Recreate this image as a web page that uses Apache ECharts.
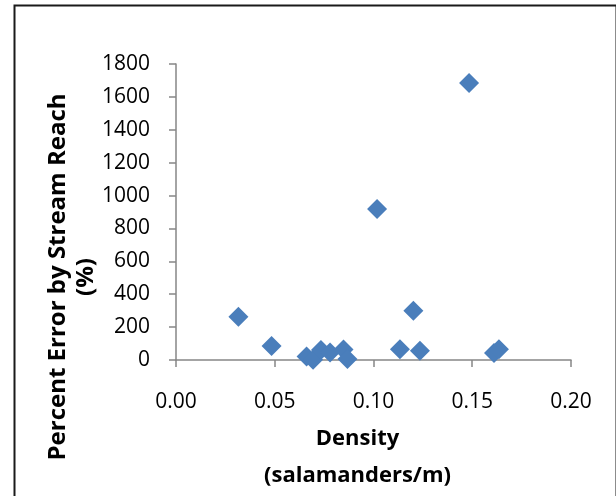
<!DOCTYPE html>
<html><head><meta charset="utf-8">
<script src="https://cdn.jsdelivr.net/npm/echarts@6/dist/echarts.min.js"></script>
<style>html,body{margin:0;padding:0;background:#fff}#c{width:616px;height:496px}</style>
</head><body><div id="c"></div>
<script>
var densityX = [0.0316, 0.0484, 0.0661, 0.0694, 0.0734, 0.078, 0.0848, 0.0868, 0.1018, 0.1134, 0.1202, 0.1235, 0.1484, 0.161, 0.1635];
var percentErrorY = [263, 85, 21, 2, 61, 46, 64, 6, 918, 65, 300, 57, 1684, 42, 66];
var xTitle = 'Density\n(salamanders/m)';
var yTitle = 'Percent Error by Stream Reach\n(%)';
var pts = densityX.map(function (x, i) { return [x, percentErrorY[i]]; });
var chart = echarts.init(document.getElementById('c'), null, {renderer: 'canvas'});
var axisCol = '#868686';
var font = 'Open Sans';
chart.setOption({
  animation: false,
  graphic: [{type: 'rect', left: 12, top: 3, shape: {width: 602, height: 520}, style: {fill: 'none', stroke: '#1a1a1a', lineWidth: 2}, silent: true}],
  grid: {left: 176, right: 45, top: 64, bottom: 136, outerBoundsMode: 'none', containLabel: false},
  xAxis: {
    type: 'value', min: 0, max: 0.2, interval: 0.05,
    splitLine: {show: false},
    axisLine: {lineStyle: {color: axisCol, width: 1.5}},
    axisTick: {show: true, length: 7, lineStyle: {color: axisCol, width: 1.5}},
    axisLabel: {margin: 32, color: '#000', fontFamily: font, fontSize: 21, formatter: function (v) { return v.toFixed(2); }},
    name: xTitle, nameLocation: 'middle', nameGap: 60,
    nameTextStyle: {fontFamily: font, fontWeight: 'bold', fontSize: 22, color: '#000', lineHeight: 37, padding: [0, 32, 0, 0]}
  },
  yAxis: {
    type: 'value', min: 0, max: 1800, interval: 200,
    splitLine: {show: false},
    axisLine: {show: true, lineStyle: {color: axisCol, width: 1.5}},
    axisTick: {show: true, length: 7, lineStyle: {color: axisCol, width: 1.5}},
    axisLabel: {margin: 26, color: '#000', fontFamily: font, fontSize: 21, formatter: function (v) { return String(v); }},
    name: yTitle, nameLocation: 'middle', nameGap: 76, nameRotate: 90, nameMoveOverlap: false,
    nameTextStyle: {fontFamily: font, fontWeight: 'bold', fontSize: 24, color: '#000', lineHeight: 28, padding: [0, 130, 0, 0]}
  },
  series: [{
    type: 'scatter', data: pts, symbol: 'diamond', symbolSize: 20,
    itemStyle: {color: '#4a7ebb', opacity: 1}
  }]
});
</script></body></html>
